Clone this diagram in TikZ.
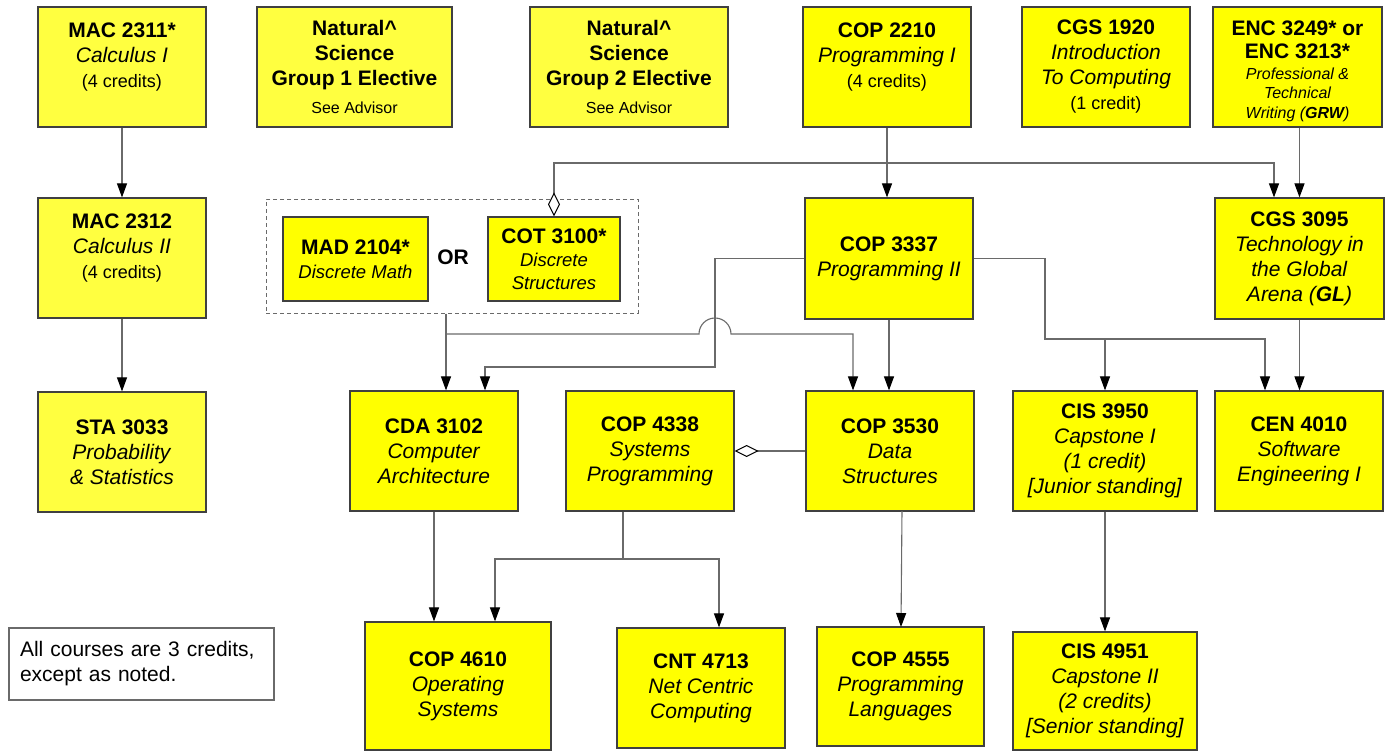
\documentclass[tikz,border=0pt]{standalone}
\usepackage{fontspec}
\setmainfont{Liberation Sans}
\usepackage{xcolor}
\usetikzlibrary{calc,arrows.meta}
\definecolor{cyel}{HTML}{FFFF00}
\definecolor{pyel}{HTML}{FFFF40}
\definecolor{edge}{HTML}{404040}
\definecolor{wire}{HTML}{6A6A6A}
\newcommand{\crsize}{\fontsize{9}{12.5}\selectfont}
\newcommand{\advsize}{\fontsize{8}{10}\selectfont}
\tikzset{
  course/.style={draw=edge, fill=cyel, line width=0.6pt, align=center, inner sep=1pt,
    minimum width=84pt, minimum height=60pt, font=\fontsize{10.5}{12.5}\selectfont},
  pale/.style={fill=pyel},
  lift/.style={text depth=12pt},
  grpbox/.style={draw=wire, dashed, dash pattern=on 2pt off 1.5pt, line width=0.5pt},
  notebox/.style={draw=wire, fill=white, line width=0.6pt, align=left, inner sep=5.5pt,
    font=\fontsize{10.5}{12.5}\selectfont},
  wire/.style={draw=wire, line width=0.55pt},
  link/.style={wire, ->},
  >={Triangle[length=7pt,width=5pt,color=black]},
  dia/.tip={Diamond[length=12pt,width=6pt,color=black,fill=white,line width=0.5pt]},
}

\begin{document}
\begin{tikzpicture}[x=0.5pt,y=-0.5pt]
  \fill[white] (0,0) rectangle (1389,751);
  \useasboundingbox (0,0) rectangle (1389,751);

  % top row
  \node[course, pale, lift] (mac1) at (122,67) {\textbf{MAC 2311*}\\\textit{Calculus I}\\{\crsize (4 credits)}};
  \node[course, pale, minimum width=97.5pt] (nat1) at (354.5,67) {\textbf{Natural\textasciicircum}\\\textbf{Science}\\\textbf{Group 1 Elective}\\[1.5pt]{\advsize See Advisor}};
  \node[course, pale, minimum width=99pt] (nat2) at (629,67) {\textbf{Natural\textasciicircum}\\\textbf{Science}\\\textbf{Group 2 Elective}\\[1.5pt]{\advsize See Advisor}};
  \node[course, lift] (cop2210) at (887,67) {\textbf{COP 2210}\\\textit{Programming I}\\{\crsize (4 credits)}};
  \node[course] (cgs1920) at (1106,67) {\textbf{CGS 1920}\\\textit{Introduction}\\\textit{To Computing}\\{\crsize (1 credit)}};
  \node[course, minimum width=84.5pt, font=\fontsize{10.5}{11.5}\selectfont] (enc) at (1297.5,67) {\rule{0pt}{11.5pt}\textbf{ENC 3249* or}\\\textbf{ENC 3213*}\\[-1pt]{\advsize\itshape Professional \&}\\[-2pt]{\advsize\itshape Technical}\\[-1.5pt]{\advsize\itshape Writing (\textbf{GRW})}};

  % second row
  \node[course, pale, lift] (mac2) at (122,258) {\textbf{MAC 2312}\\\textit{Calculus II}\\{\crsize (4 credits)}};
  \node[grpbox, minimum width=186pt, minimum height=57pt] (grp) at (452,256) {};
  \node[course, minimum width=72.5pt, minimum height=42pt, font=\fontsize{10.5}{12}\selectfont] (mad) at (355.5,259) {\textbf{MAD 2104*}\\{\fontsize{9.25}{12}\selectfont\itshape Discrete Math}};
  \node[course, minimum width=66pt, minimum height=42pt, font=\fontsize{10.5}{11.5}\selectfont] (cot) at (554,259) {\textbf{COT 3100*}\\{\fontsize{9.25}{12}\selectfont\itshape Discrete}\\{\fontsize{9.25}{12}\selectfont\itshape Structures}};
  \node[font=\fontsize{10.5}{12.5}\selectfont\bfseries] (orlbl) at (453,257) {OR};
  \node[course, minimum height=60.5pt] (cop3337) at (889,258.5) {\textbf{COP 3337}\\\textit{Programming II}};
  \node[course, minimum width=84.5pt, minimum height=60.5pt] (cgs3095) at (1299.5,258.5) {\textbf{CGS 3095}\\\textit{Technology in}\\\textit{the Global}\\\textit{Arena (\textbf{GL})}};

  % third row
  \node[course, pale] (sta) at (122,452) {\textbf{STA 3033}\\\textit{Probability}\\\textit{\& Statistics}};
  \node[course] (cda) at (434,451) {\textbf{CDA 3102}\\\textit{Computer}\\\textit{Architecture}};
  \node[course] (cop4338) at (650,451) {\textbf{COP 4338}\\\textit{Systems}\\\textit{Programming}};
  \node[course] (cop3530) at (890,451) {\textbf{COP 3530}\\\textit{Data}\\\textit{Structures}};
  \node[course, minimum width=92pt] (cis3950) at (1105,451) {\textbf{CIS 3950}\\\textit{Capstone I}\\\textit{(1 credit)}\\\textit{[Junior standing]}};
  \node[course] (cen) at (1299,451) {\textbf{CEN 4010}\\\textit{Software}\\\textit{Engineering I}};

  % bottom row
  \node[course, minimum width=93pt, minimum height=64pt] (cop4610) at (458,686) {\textbf{COP 4610}\\\textit{Operating}\\\textit{Systems}};
  \node[course] (cnt) at (701,688) {\textbf{CNT 4713}\\\textit{Net Centric}\\\textit{Computing}};
  \node[course, minimum width=83.5pt, minimum height=59.5pt] (cop4555) at (900.5,686.5) {\textbf{COP 4555}\\\textit{Programming}\\\textit{Languages}};
  \node[course, minimum width=92pt, minimum height=59pt] (cis4951) at (1105,691) {\textbf{CIS 4951}\\\textit{Capstone II}\\\textit{(2 credits)}\\\textit{[Senior standing]}};
  \node[notebox, minimum width=132.5pt, minimum height=36pt, text width=121.5pt] (note) at (141.5,664) {All courses are 3 credits,\\except as noted.};

  % bend points
  \coordinate (t1) at (1274,163);
  \coordinate (j1) at (446,334);
  \coordinate (j2) at (853,334);
  \coordinate (k1) at (715,367);
  \coordinate (k2) at (485,367);
  \coordinate (m1) at (1045,339);
  \coordinate (m2) at (1265,339);
  \coordinate (n1) at (623,559);
  \coordinate (n2) at (495,559);
  \coordinate (n3) at (719,559);
  \coordinate (p1) at (902,511);
  \coordinate (p2) at (901,627);

  % connectors
  \draw[link] (mac1.south) -- (mac2.north);
  \draw[link] (mac2.south) -- (sta.north);
  \draw[link] (cop2210.south) -- (cop2210.south |- cop3337.north);
  \draw[link] (enc.south -| cgs3095.north) -- (cgs3095.north);
  \draw[wire, dia->] (cot.north) |- (t1) -- (t1 |- cgs3095.north);
  \draw[link] (grp.south -| j1) -- (j1 |- cda.north);
  \draw[link] (j1) -- (699,334) arc[start angle=180, end angle=360, radius=16] -- (j2) -- (j2 |- cop3530.north);
  \draw[link] (cop3337.west) -| (k1) -- (k2) -- (k2 |- cda.north);
  \draw[link] (cop3337.south) -- (cop3337.south |- cop3530.north);
  \draw[link] (cop3337.east) -| (m1) -- (m2) -- (m2 |- cen.north);
  \draw[link] (m1 -| cis3950.north) -- (cis3950.north);
  \draw[link] (cgs3095.south) -- (cgs3095.south |- cen.north);
  \draw[wire, dia-] (cop4338.east) -- (cop3530.west);
  \draw[link] (cda.south) -- (cda.south |- cop4610.north);
  \draw[wire] (cop4338.south -| n1) -- (n1);
  \draw[link] (n1) -- (n2) -- (n2 |- cop4610.north);
  \draw[link] (n1) -- (n3) -- (n3 |- cnt.north);
  \draw[link] (p1) -- (p2);
  \draw[link] (cis3950.south) -- (cis4951.north);
\end{tikzpicture}
\end{document}
